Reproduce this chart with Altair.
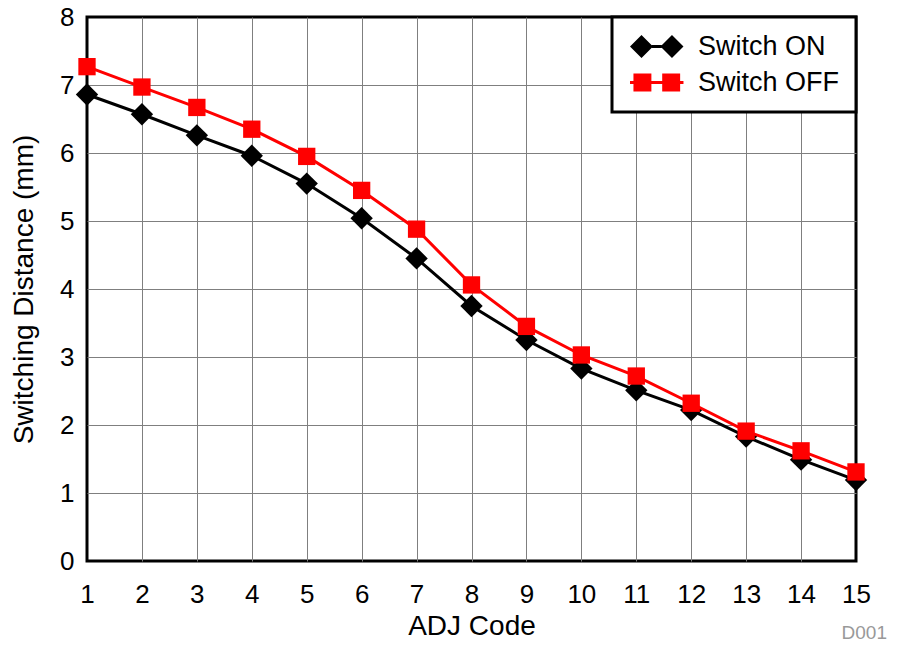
import altair as alt
import pandas as pd

# ---- data ----
adj_code = list(range(1, 16))
switch_on = [6.86, 6.57, 6.26, 5.96, 5.55, 5.04, 4.45, 3.75, 3.25, 2.83, 2.51, 2.22, 1.83, 1.49, 1.19]
switch_off = [7.27, 6.97, 6.67, 6.35, 5.95, 5.45, 4.88, 4.06, 3.45, 3.03, 2.72, 2.32, 1.91, 1.62, 1.31]
series_names = ["Switch ON", "Switch OFF"]
series_colors = ["#000000", "#ff0000"]
x_ticks = list(range(1, 16))
y_ticks = list(range(0, 9))
x_title = "ADJ Code"
y_title = "Switching Distance (mm)"
note = ["D001"]

df = pd.DataFrame({
    "ADJ Code": adj_code * 2,
    "Distance": switch_on + switch_off,
    "Series": [series_names[0]] * len(adj_code) + [series_names[1]] * len(adj_code),
})
note_df = pd.DataFrame({"t": note})

FONT = "Liberation Sans"
W, H = 769, 544
PAD = {"left": 79, "top": 9, "right": 33, "bottom": 82}

# legend symbols: marker + line + marker
on_path = ("M-1,0L0,-1L1,0L0,1Z "
           "M0.9,-0.13L1.75,-0.13L1.75,0.13L0.9,0.13Z "
           "M1.65,0L2.65,-1L3.65,0L2.65,1Z")
off_path = ("M-0.7,-0.78L0.86,-0.78L0.86,0.78L-0.7,0.78Z "
            "M1.8,-0.78L3.36,-0.78L3.36,0.78L1.8,0.78Z "
            "M-1,-0.14L3.65,-0.14L3.65,0.14L-1,0.14Z")

x_enc = alt.X(
    "ADJ Code:Q",
    scale=alt.Scale(domain=[1, 15], nice=False, zero=False),
    axis=alt.Axis(
        values=x_ticks, title=x_title, format="d",
        labelFontSize=26, labelColor="black", labelPadding=20, labelFont=FONT, labelFlush=False,
        ticks=False, tickSize=0, domain=False,
        grid=True, gridColor="#7f7f7f", gridWidth=1,
        gridOpacity={"condition": {"test": "datum.value <= 1 || datum.value >= 15", "value": 0}, "value": 1},
        titleFontSize=28, titleFontWeight="normal", titleColor="black", titlePadding=5, titleFont=FONT,
    ),
)
y_enc = alt.Y(
    "Distance:Q",
    scale=alt.Scale(domain=[0, 8], nice=False, zero=True),
    axis=alt.Axis(
        values=y_ticks, title=y_title, format="d",
        labelFontSize=26, labelColor="black", labelPadding=13, labelFont=FONT, labelFlush=False,
        ticks=False, tickSize=0, domain=False,
        grid=True, gridColor="#7f7f7f", gridWidth=1,
        gridOpacity={"condition": {"test": "datum.value <= 0 || datum.value >= 8", "value": 0}, "value": 1},
        titleFontSize=28, titleFontWeight="normal", titleColor="black", titlePadding=21, titleFont=FONT,
    ),
)

base = alt.Chart(df)

on_line = base.transform_filter(alt.datum.Series == series_names[0]).mark_line(
    color=series_colors[0], strokeWidth=3).encode(x=x_enc, y=y_enc)
on_pts = base.transform_filter(alt.datum.Series == series_names[0]).mark_point(
    shape="diamond", filled=True, size=500, color=series_colors[0], opacity=1, strokeWidth=0).encode(x=x_enc, y=y_enc)
off_line = base.transform_filter(alt.datum.Series == series_names[1]).mark_line(
    color=series_colors[1], strokeWidth=3).encode(x=x_enc, y=y_enc)
off_pts = base.transform_filter(alt.datum.Series == series_names[1]).mark_point(
    shape="square", filled=True, size=300, color=series_colors[1], opacity=1, strokeWidth=0).encode(x=x_enc, y=y_enc)

leg = alt.Legend(
    title=None, orient="top-right", offset=0, padding=16,
    strokeColor="black", fillColor="white", cornerRadius=0,
    symbolSize=529, symbolStrokeWidth=0, symbolOpacity=1,
    labelFontSize=27, labelFont=FONT, labelColor="black", labelOffset=43,
    labelLimit=400, rowPadding=8,
)
legend_layer = base.transform_filter("false").mark_point(
    filled=True, size=529, opacity=1, strokeWidth=0).encode(
    x=x_enc, y=y_enc,
    color=alt.Color("Series:N", scale=alt.Scale(domain=series_names, range=series_colors), legend=leg),
    shape=alt.Shape("Series:N", scale=alt.Scale(domain=series_names, range=[on_path, off_path]), legend=leg),
)

note_layer = alt.Chart(note_df).mark_text(
    align="right", baseline="alphabetic", fontSize=19, color="#999999", font=FONT).encode(
    x=alt.value(W + PAD["right"] - 2), y=alt.value(H + 78), text="t:N")

chart = alt.layer(on_line, on_pts, off_line, off_pts, legend_layer, note_layer).properties(
    width=W, height=H, padding=PAD, autosize=alt.AutoSizeParams(type="none"),
    background="white",
).configure(font=FONT).configure_view(stroke="black", strokeWidth=3).configure_legend(strokeWidth=3)

chart.save("out.html", embed_options={"renderer": "svg", "actions": False})
